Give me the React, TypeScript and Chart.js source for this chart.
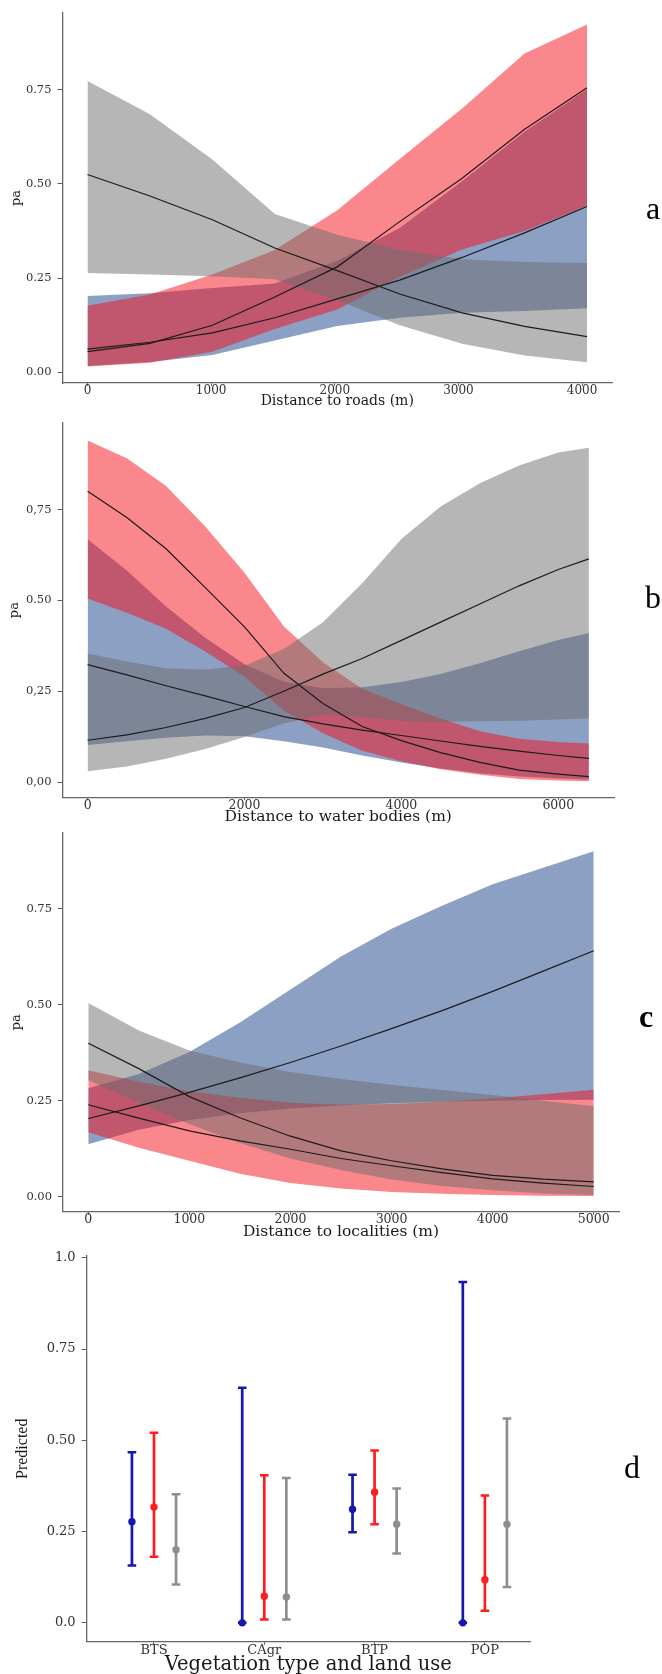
import React, { useEffect, useRef } from "react";
import { Chart, registerables } from "chart.js";

Chart.register(...registerables);

const SERIF = "'DejaVu Serif', serif";
const TIMES = "'Liberation Serif', 'Times New Roman', serif";

// Fill colours of the three groups (drawn semi-transparent so overlaps mix)
const BLUE_FILL = "rgba(25, 65, 135, 0.5)";
const RED_FILL = "rgba(245, 15, 25, 0.5)";
const GRAY_FILL = "rgba(110, 110, 110, 0.5)";
const MEAN_LINE = "#1c1c1c";

// ---------- a: distance to roads ----------
const roadsDist = [0, 505, 1010, 1515, 2020, 2525, 3030, 3535, 4040];
const roadsGrayMean = [0.525, 0.468, 0.405, 0.33, 0.27, 0.208, 0.158, 0.122, 0.095];
const roadsGrayUpper = [0.773, 0.685, 0.565, 0.42, 0.365, 0.325, 0.3, 0.293, 0.29];
const roadsGrayLower = [0.264, 0.26, 0.255, 0.247, 0.192, 0.125, 0.076, 0.045, 0.027];
const roadsRedMean = [0.055, 0.077, 0.125, 0.2, 0.28, 0.4, 0.515, 0.645, 0.755];
const roadsRedUpper = [0.177, 0.207, 0.26, 0.325, 0.43, 0.566, 0.7, 0.846, 0.923];
const roadsRedLower = [0.016, 0.026, 0.055, 0.115, 0.167, 0.254, 0.326, 0.375, 0.442];
const roadsBlueMean = [0.062, 0.08, 0.105, 0.145, 0.195, 0.245, 0.305, 0.37, 0.44];
const roadsBlueUpper = [0.203, 0.21, 0.224, 0.236, 0.296, 0.383, 0.507, 0.638, 0.751];
const roadsBlueLower = [0.017, 0.028, 0.046, 0.085, 0.123, 0.145, 0.158, 0.163, 0.17];
const roadsXTicks = [0, 1000, 2000, 3000, 4000];
const roadsXLabels = ["0", "1000", "2000", "3000", "4000"];
const roadsYTicks = [0, 0.25, 0.5, 0.75];
const roadsYLabels = ["0.00", "0.25", "0.50", "0.75"];

// ---------- b: distance to water bodies ----------
const waterDist = [0, 500, 1000, 1500, 2000, 2500, 3000, 3500, 4000, 4500, 5000, 5500, 6000, 6390];
const waterRedMean = [0.8, 0.728, 0.642, 0.535, 0.427, 0.3, 0.216, 0.153, 0.114, 0.081, 0.054, 0.033, 0.022, 0.015];
const waterRedUpper = [0.94, 0.891, 0.815, 0.703, 0.576, 0.429, 0.33, 0.257, 0.214, 0.175, 0.14, 0.119, 0.11, 0.106];
const waterRedLower = [0.505, 0.466, 0.422, 0.359, 0.29, 0.197, 0.134, 0.086, 0.057, 0.035, 0.02, 0.0085, 0.004, 0.002];
const waterBlueMean = [0.323, 0.295, 0.265, 0.237, 0.208, 0.18, 0.16, 0.143, 0.128, 0.113, 0.098, 0.085, 0.073, 0.065];
const waterBlueUpper = [0.668, 0.582, 0.483, 0.397, 0.324, 0.276, 0.258, 0.261, 0.275, 0.297, 0.327, 0.36, 0.391, 0.41];
const waterBlueLower = [0.102, 0.112, 0.122, 0.128, 0.126, 0.112, 0.095, 0.073, 0.054, 0.037, 0.024, 0.015, 0.0095, 0.007];
const waterGrayMean = [0.115, 0.13, 0.15, 0.175, 0.205, 0.25, 0.297, 0.34, 0.39, 0.44, 0.49, 0.54, 0.585, 0.614];
const waterGrayUpper = [0.354, 0.332, 0.313, 0.31, 0.32, 0.366, 0.44, 0.547, 0.669, 0.758, 0.822, 0.871, 0.907, 0.92];
const waterGrayLower = [0.03, 0.043, 0.064, 0.091, 0.124, 0.161, 0.185, 0.18, 0.168, 0.165, 0.167, 0.169, 0.172, 0.175];
const waterXTicks = [0, 2000, 4000, 6000];
const waterXLabels = ["0", "2000", "4000", "6000"];
const waterYTicks = [0, 0.25, 0.5, 0.75];
const waterYLabels = ["0,00", "0,25", "0.50", "0,75"];

// ---------- c: distance to localities ----------
const localDist = [0, 500, 1000, 1500, 2000, 2500, 3000, 3500, 4000, 4500, 5000];
const localBlueMean = [0.204, 0.237, 0.272, 0.31, 0.35, 0.393, 0.438, 0.485, 0.535, 0.588, 0.641];
const localBlueUpper = [0.283, 0.32, 0.377, 0.454, 0.54, 0.626, 0.698, 0.758, 0.814, 0.857, 0.9];
const localBlueLower = [0.137, 0.175, 0.2, 0.218, 0.23, 0.238, 0.244, 0.248, 0.25, 0.252, 0.253];
const localRedMean = [0.24, 0.205, 0.172, 0.146, 0.124, 0.1, 0.081, 0.063, 0.047, 0.036, 0.027];
const localRedUpper = [0.33, 0.3, 0.275, 0.258, 0.245, 0.24, 0.242, 0.248, 0.256, 0.267, 0.279];
const localRedLower = [0.168, 0.128, 0.094, 0.06, 0.036, 0.022, 0.013, 0.008, 0.005, 0.003, 0.002];
const localGrayMean = [0.4, 0.334, 0.261, 0.206, 0.158, 0.12, 0.094, 0.073, 0.056, 0.046, 0.039];
const localGrayUpper = [0.505, 0.433, 0.381, 0.35, 0.325, 0.307, 0.292, 0.278, 0.265, 0.25, 0.236];
const localGrayLower = [0.304, 0.245, 0.19, 0.14, 0.1, 0.07, 0.045, 0.028, 0.017, 0.009, 0.005];
const localXTicks = [0, 1000, 2000, 3000, 4000, 5000];
const localXLabels = ["0", "1000", "2000", "3000", "4000", "5000"];
const localYTicks = [0, 0.25, 0.5, 0.75];
const localYLabels = ["0.00", "0.25", "0.50", "0.75"];

// ---------- d: vegetation type and land use ----------
const landUse = ["BTS", "CAgr", "BTP", "POP"];
const blueFit = [0.277, 0.0, 0.311, 0.0];
const blueLow = [0.157, 0.0, 0.248, 0.0];
const blueHigh = [0.467, 0.644, 0.406, 0.934];
const redFit = [0.317, 0.073, 0.358, 0.118];
const redLow = [0.181, 0.009, 0.27, 0.033];
const redHigh = [0.521, 0.404, 0.472, 0.349];
const grayFit = [0.2, 0.071, 0.27, 0.27];
const grayLow = [0.105, 0.009, 0.19, 0.098];
const grayHigh = [0.352, 0.397, 0.368, 0.56];
const predTicks = [0, 0.25, 0.5, 0.75, 1];
const predLabels = ["0.0", "0.25", "0.50", "0.75", "1.0"];

type BandSeries = { mean: number[]; upper: number[]; lower: number[]; color: string };

interface AxisSpec {
  min: number;
  max: number;
  values: number[];
  labels: string[];
  fontSize: number;
  tickLength: number;
  padding: number;
  size: number;
  title: string;
  titleFamily: string;
  titleSize: number;
  titlePad: { top: number; bottom: number };
}

function scaleFor(a: AxisSpec, horizontal: boolean) {
  return {
    type: "linear",
    min: a.min,
    max: a.max,
    afterBuildTicks: (s: any) => {
      s.ticks = a.values.map((v) => ({ value: v }));
    },
    afterFit: (s: any) => {
      if (horizontal) s.height = a.size;
      else s.width = a.size;
    },
    ticks: {
      autoSkip: false,
      maxRotation: 0,
      minRotation: 0,
      padding: a.padding,
      color: "#333333",
      font: { family: SERIF, size: a.fontSize },
      callback: (_v: any, i: number) => a.labels[i],
    },
    grid: {
      display: true,
      drawOnChartArea: false,
      drawTicks: true,
      tickLength: a.tickLength,
      color: "#5a5a5a",
      lineWidth: 1,
    },
    border: { display: true, color: "#666666", width: 1.3 },
    title: {
      display: true,
      text: a.title,
      color: "#1a1a1a",
      font: { family: a.titleFamily, size: a.titleSize },
      padding: a.titlePad,
    },
  };
}

function baseOptions(padding: any, x: any, y: any, extraPlugins: any = {}) {
  return {
    responsive: false,
    animation: false,
    events: [],
    layout: { padding },
    plugins: {
      legend: { display: false },
      tooltip: { enabled: false },
      ...extraPlugins,
    },
    scales: { x, y },
  };
}

function ribbonConfig(xs: number[], series: BandSeries[], xAxis: AxisSpec, yAxis: AxisSpec, padding: any) {
  const lines = series.map((s) => ({
    data: xs.map((x, i) => ({ x, y: s.mean[i] })),
    borderColor: MEAN_LINE,
    borderWidth: 1.2,
    pointRadius: 0,
    fill: false,
    tension: 0,
  }));
  const bands = series.flatMap((s) => [
    {
      data: xs.map((x, i) => ({ x, y: s.upper[i] })),
      borderWidth: 0,
      borderColor: "transparent",
      pointRadius: 0,
      backgroundColor: s.color,
      fill: "+1",
      tension: 0,
    },
    {
      data: xs.map((x, i) => ({ x, y: s.lower[i] })),
      borderWidth: 0,
      borderColor: "transparent",
      pointRadius: 0,
      fill: false,
      tension: 0,
    },
  ]);
  return {
    type: "line",
    data: { datasets: [...lines, ...bands] },
    options: baseOptions(padding, scaleFor(xAxis, true), scaleFor(yAxis, false), {
      filler: { drawTime: "beforeDatasetsDraw", propagate: false },
    }),
  };
}

function roadsConfig() {
  return ribbonConfig(
    roadsDist,
    [
      { mean: roadsGrayMean, upper: roadsGrayUpper, lower: roadsGrayLower, color: GRAY_FILL },
      { mean: roadsRedMean, upper: roadsRedUpper, lower: roadsRedLower, color: RED_FILL },
      { mean: roadsBlueMean, upper: roadsBlueUpper, lower: roadsBlueLower, color: BLUE_FILL },
    ],
    {
      min: -202, max: 4242, values: roadsXTicks, labels: roadsXLabels, fontSize: 12,
      tickLength: 3, padding: -2, size: 29, title: "Distance to roads (m)",
      titleFamily: SERIF, titleSize: 14, titlePad: { top: 0, bottom: 1.9 },
    },
    {
      min: -0.028, max: 0.9535, values: roadsYTicks, labels: roadsYLabels, fontSize: 11.5,
      tickLength: 5, padding: 6, size: 62.5, title: "pa",
      titleFamily: SERIF, titleSize: 13, titlePad: { top: 8.7, bottom: 0 },
    },
    { left: 0, right: 50, top: 9, bottom: 0 }
  );
}

function waterConfig() {
  return ribbonConfig(
    waterDist,
    [
      { mean: waterGrayMean, upper: waterGrayUpper, lower: waterGrayLower, color: GRAY_FILL },
      { mean: waterRedMean, upper: waterRedUpper, lower: waterRedLower, color: RED_FILL },
      { mean: waterBlueMean, upper: waterBlueUpper, lower: waterBlueLower, color: BLUE_FILL },
    ],
    {
      min: -320, max: 6710, values: waterXTicks, labels: waterXLabels, fontSize: 12.5,
      tickLength: 3, padding: -2, size: 30.7, title: "Distance to water bodies (m)",
      titleFamily: SERIF, titleSize: 15.5, titlePad: { top: 0, bottom: 1.7 },
    },
    {
      min: -0.042, max: 0.9884, values: waterYTicks, labels: waterYLabels, fontSize: 11.5,
      tickLength: 5, padding: 6, size: 62.5, title: "pa",
      titleFamily: SERIF, titleSize: 13, titlePad: { top: 7.2, bottom: 0 },
    },
    { left: 0, right: 48, top: 5, bottom: 0 }
  );
}

function localitiesConfig() {
  return ribbonConfig(
    localDist,
    [
      { mean: localGrayMean, upper: localGrayUpper, lower: localGrayLower, color: GRAY_FILL },
      { mean: localRedMean, upper: localRedUpper, lower: localRedLower, color: RED_FILL },
      { mean: localBlueMean, upper: localBlueUpper, lower: localBlueLower, color: BLUE_FILL },
    ],
    {
      min: -250, max: 5250, values: localXTicks, labels: localXLabels, fontSize: 12.5,
      tickLength: 3, padding: -2, size: 30.3, title: "Distance to localities (m)",
      titleFamily: SERIF, titleSize: 15.5, titlePad: { top: 0, bottom: 0.7 },
    },
    {
      min: -0.0386, max: 0.9478, values: localYTicks, labels: localYLabels, fontSize: 11.5,
      tickLength: 5, padding: 6, size: 63, title: "pa",
      titleFamily: SERIF, titleSize: 13, titlePad: { top: 9.2, bottom: 0 },
    },
    { left: 0, right: 43, top: 8, bottom: 0 }
  );
}

function groupDatasets(fit: number[], low: number[], high: number[], shift: number, color: string) {
  const pos = (i: number) => i + 1 + shift;
  return [
    {
      // fitted value
      data: fit.map((y, i) => ({ x: pos(i), y })),
      showLine: false,
      pointStyle: "circle",
      pointRadius: 3.7,
      pointBorderWidth: 0,
      pointBackgroundColor: color,
      pointBorderColor: color,
    },
    {
      // whisker caps
      data: [...high.map((y, i) => ({ x: pos(i), y })), ...low.map((y, i) => ({ x: pos(i), y }))],
      showLine: false,
      pointStyle: "line",
      pointRadius: 4.3,
      pointBorderWidth: 2.5,
      pointBorderColor: color,
      borderColor: color,
    },
    {
      // interval bars
      data: fit.flatMap((_, i) => [
        { x: pos(i), y: low[i] },
        { x: pos(i), y: high[i] },
        { x: pos(i), y: null },
      ]),
      spanGaps: false,
      borderColor: color,
      borderWidth: 2.7,
      borderCapStyle: "butt",
      pointRadius: 0,
      fill: false,
    },
  ];
}

function landUseConfig() {
  const datasets = [
    ...groupDatasets(blueFit, blueLow, blueHigh, -0.2, "#1616b0"),
    ...groupDatasets(redFit, redLow, redHigh, 0, "#ff1c1c"),
    ...groupDatasets(grayFit, grayLow, grayHigh, 0.2, "#8e8e8e"),
  ];
  const x = scaleFor(
    {
      min: 0.389, max: 4.409, values: [1, 2, 3, 4], labels: landUse, fontSize: 13,
      tickLength: 3, padding: -1.5, size: 34.3, title: "Vegetation type and land use",
      titleFamily: SERIF, titleSize: 19.5, titlePad: { top: 0, bottom: -0.5 },
    },
    true
  );
  const y = scaleFor(
    {
      min: -0.0517, max: 1.0055, values: predTicks, labels: predLabels, fontSize: 13,
      tickLength: 5, padding: 6, size: 86.6, title: "Predicted",
      titleFamily: TIMES, titleSize: 16, titlePad: { top: 13.4, bottom: 0 },
    },
    false
  );
  return {
    type: "line",
    data: { datasets },
    options: baseOptions({ left: 0, right: 132, top: 11, bottom: 0 }, x, y),
  };
}

function ChartCanvas({ top, height, build }: { top: number; height: number; build: () => any }) {
  const ref = useRef<HTMLCanvasElement>(null);
  useEffect(() => {
    const chart = new Chart(ref.current as HTMLCanvasElement, build());
    return () => chart.destroy();
  }, []);
  return (
    <canvas
      ref={ref}
      width={662}
      height={height}
      style={{ position: "absolute", left: 0, top, width: 662, height, display: "block" }}
    />
  );
}

const letterStyle = {
  position: "absolute" as const,
  fontFamily: TIMES,
  fontSize: 32,
  lineHeight: "32px",
  color: "#000",
};

export default function App() {
  return (
    <div
      style={{
        position: "absolute",
        left: 0,
        top: 0,
        width: 662,
        height: 1674,
        overflow: "hidden",
        background: "#fff",
      }}
    >
      <ChartCanvas top={0} height={412} build={roadsConfig} />
      <ChartCanvas top={410} height={418} build={waterConfig} />
      <ChartCanvas top={820} height={422} build={localitiesConfig} />
      <ChartCanvas top={1242} height={434} build={landUseConfig} />
      <div style={{ ...letterStyle, left: 646, top: 192 }}>a</div>
      <div style={{ ...letterStyle, left: 645, top: 581 }}>b</div>
      <div style={{ ...letterStyle, left: 639, top: 1000, fontWeight: "bold" }}>c</div>
      <div style={{ ...letterStyle, left: 624, top: 1451 }}>d</div>
    </div>
  );
}
